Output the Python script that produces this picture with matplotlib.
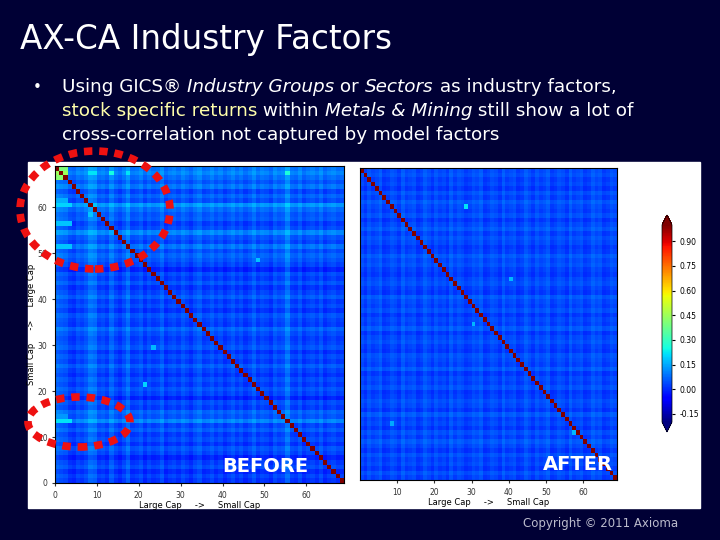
import numpy as np
import matplotlib
matplotlib.use("Agg")
import matplotlib.pyplot as plt
from matplotlib.patches import Rectangle, Ellipse

# ---- data (read/estimated from picture) ----
n = 69
ticks = [0, 10, 20, 30, 40, 50, 60]
cbar_ticks = [-0.15, 0.0, 0.15, 0.30, 0.45, 0.60, 0.75, 0.90]
# BEFORE: row (bottom->top) and column (left->right) brightness profiles
before_rows = [0.02,0.04,0.01,0.05,0.03,0.00,0.04,0.06,0.02,0.05,0.03,0.07,0.04,0.12,0.06,0.08,0.03,0.05,0.00,0.04,
               0.06,0.03,0.05,0.02,0.04,0.07,0.03,0.05,0.02,0.06,0.04,0.03,0.05,0.08,0.03,0.04,0.06,0.02,0.05,0.03,
               0.07,0.04,0.02,0.06,0.03,0.05,0.00,0.04,0.06,0.08,0.05,0.10,0.04,0.06,0.12,0.05,0.03,0.07,0.06,0.09,
               0.14,0.05,0.08,0.04,0.10,0.06,0.09,0.12,0.10]
before_cols = [0.08,0.07,0.06,0.03,0.02,0.05,0.04,0.06,0.10,0.09,0.04,0.05,0.03,0.08,0.04,0.02,0.05,0.09,0.03,0.04,
               0.06,0.02,0.05,0.03,0.04,0.07,0.02,0.04,0.05,0.03,0.06,0.04,0.02,0.05,0.07,0.03,0.04,0.06,0.03,0.05,
               0.02,0.04,0.06,0.03,0.05,0.02,0.04,0.07,0.03,0.05,0.04,0.02,0.06,0.04,0.05,0.10,0.04,0.03,0.06,0.02,
               0.04,0.05,0.03,0.06,0.02,0.04,0.05,0.03,0.04]
before_offset = -0.05
# hotspots: (row, col_start, col_end, value)
before_hot = [(66,0,3,0.42),(67,0,3,0.45),(68,0,3,0.4),(60,0,4,0.2),(61,0,3,0.16),(56,0,4,0.18),(51,0,4,0.18),
              (13,0,4,0.22),(14,0,3,0.13),(67,8,10,0.22),(67,13,14,0.25),(67,17,18,0.22),(67,55,56,0.26),
              (58,8,9,0.18),(48,48,49,0.18),(21,21,22,0.2),(29,23,24,0.17)]
after_rows = [0.03,0.05,0.02,0.04,0.03,0.05,0.02,0.04,0.06,0.03,0.05,0.02,0.04,0.03,0.06,0.02,0.04,0.05,0.03,0.02,
              0.05,0.03,0.04,0.02,0.06,0.03,0.04,0.05,0.02,0.03,0.05,0.04,0.02,0.06,0.03,0.04,0.02,0.05,0.03,0.04,
              0.06,0.02,0.03,0.05,0.04,0.02,0.03,0.05,0.04,0.06,0.03,0.02,0.04,0.05,0.03,0.06,0.04,0.02,0.05,0.03,
              0.04,0.06,0.03,0.05,0.02,0.04,0.03,0.05,0.04]
after_cols = [0.04,0.02,0.05,0.03,0.04,0.06,0.02,0.03,0.05,0.04,0.02,0.06,0.03,0.04,0.05,0.02,0.03,0.06,0.04,0.02,
              0.05,0.03,0.04,0.02,0.06,0.03,0.05,0.04,0.02,0.03,0.05,0.04,0.06,0.02,0.03,0.05,0.04,0.02,0.06,0.03,
              0.04,0.05,0.02,0.03,0.06,0.04,0.02,0.05,0.03,0.04,0.06,0.02,0.03,0.05,0.04,0.02,0.06,0.03,0.04,0.05,
              0.02,0.03,0.06,0.04,0.05,0.02,0.03,0.05,0.04]
after_offset = -0.04
after_hot = [(52,16,17,0.25),(60,28,29,0.22),(34,30,31,0.17),(10,57,58,0.17),(12,8,9,0.15),(44,40,41,0.17)]

def build(rows, cols, off, hot):
    m = off + np.add.outer(np.array(rows), np.array(cols))
    for r, c0, c1, v in hot:
        m[r, c0:c1] = v
    for j in range(n):
        m[n - 1 - j, j] = 1.0
    return m

before = build(before_rows, before_cols, before_offset, before_hot)
after = build(after_rows, after_cols, after_offset, after_hot)

W, H = 720, 540
fig = plt.figure(figsize=(7.2, 5.4), dpi=100)
fig.patch.set_facecolor("#000035")
def fx(x): return x / W
def fy(y): return 1 - y / H

fig.add_artist(Rectangle((fx(28), fy(508)), fx(700 - 28), (508 - 162) / H,
                         transform=fig.transFigure, color="white", zorder=0))

kw = dict(cmap="jet", vmin=-0.2, vmax=1.0, origin="lower", interpolation="nearest",
          extent=(0, n, 0, n), aspect="auto")
ax1 = fig.add_axes([fx(55), fy(483), fx(344 - 55), (483 - 166) / H])
ax1.imshow(before, **kw)
ax1.set_xticks(ticks); ax1.set_yticks(ticks)
ax1.tick_params(labelsize=5.5, length=2, colors="#333333")
ax1.set_xlabel("Large Cap     ->     Small Cap", fontsize=6, labelpad=1)
ax1.set_ylabel("Small Cap     ->     Large Cap", fontsize=6, labelpad=1)

ax2 = fig.add_axes([fx(360), fy(480), fx(617 - 360), (480 - 168) / H])
im = ax2.imshow(after, **kw)
ax2.set_xticks(ticks[1:]); ax2.set_yticks([])
ax2.tick_params(labelsize=5.5, length=2, colors="#333333")
ax2.set_xlabel("Large Cap     ->     Small Cap", fontsize=6, labelpad=1)

cax = fig.add_axes([fx(662), fy(432), fx(10), (432 - 215) / H])
cb = fig.colorbar(im, cax=cax, extend="both", ticks=cbar_ticks)
cb.ax.tick_params(labelsize=5.5, length=2)
cb.ax.set_yticklabels(["%.2f" % t for t in cbar_ticks])
cb.outline.set_linewidth(0.5)

fig.text(fx(265), fy(467), "BEFORE", color="white", fontsize=14, fontweight="bold", ha="center", va="center")
fig.text(fx(578), fy(464), "AFTER", color="white", fontsize=14, fontweight="bold", ha="center", va="center")

for cx, cy, w, h in [(95, 210, 150, 118), (79, 422, 102, 50)]:
    fig.add_artist(Ellipse((fx(cx), fy(cy)), fx(w), h / H, transform=fig.transFigure,
                           fill=False, ec="#ee1111", lw=5.5, ls=(0, (1.1, 0.9)), zorder=10))

fig.text(fx(20), fy(40), "AX-CA Industry Factors", color="white", fontsize=23.5, va="center")
fig.text(fx(523), fy(524), "Copyright © 2011 Axioma", color="#bbbbcc", fontsize=8.5, va="center")
fig.text(fx(33), fy(88), "•", color="white", fontsize=11, va="center")

renderer = fig.canvas.get_renderer()
def runs(x, y, parts):
    for txt, style, col in parts:
        t = fig.text(fx(x), fy(y), txt, color=col, fontsize=13.2, style=style, va="center")
        bb = t.get_window_extent(renderer)
        x += bb.width
lines = [
    (87, [("Using GICS® ", "normal", "white"), ("Industry Groups", "italic", "white"), (" or ", "normal", "white"),
          ("Sectors", "italic", "white"), (" as industry factors,", "normal", "white")]),
    (111, [("stock specific returns", "normal", "#ffffaa"), (" within ", "normal", "white"),
           ("Metals & Mining", "italic", "white"), (" still show a lot of", "normal", "white")]),
    (135, [("cross-correlation not captured by model factors", "normal", "white")]),
]
for y, parts in lines:
    runs(62, y, parts)

fig.savefig("out.png", dpi=100, facecolor=fig.get_facecolor())
